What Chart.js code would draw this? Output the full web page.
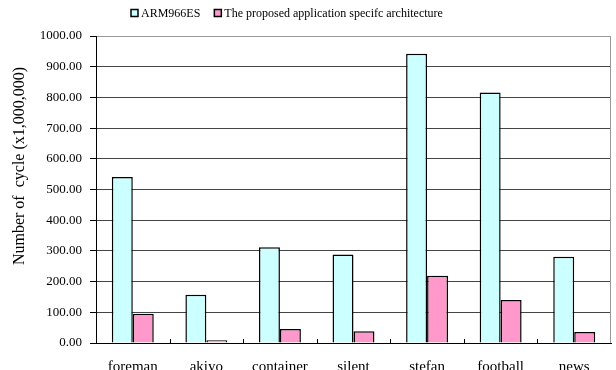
<!DOCTYPE html>
<html>
<head>
<meta charset="utf-8">
<script src="https://cdn.jsdelivr.net/npm/chart.js@4/dist/chart.umd.min.js"></script>
<style>
  html, body { margin: 0; padding: 0; background: #fff; }
  #wrap { width: 616px; height: 370px; }
</style>
</head>
<body>
<div id="wrap"><canvas id="c" width="616" height="370"></canvas></div>
<script>
// Daten.
var categories = ['foreman', 'akiyo', 'container', 'silent', 'stefan', 'football', 'news'];
var armValues = [541, 157, 312, 288, 942, 816, 281];
var asipValues = [95, 9, 46, 38, 219, 140, 36];
var seriesNames = ['ARM966ES', 'The proposed application specifc architecture'];
var yTicks = [0, 100, 200, 300, 400, 500, 600, 700, 800, 900, 1000];
var yTitle = 'Number of  cycle (x1,000,000)';

(function () {
    var serif = '"Liberation Serif", "Times New Roman", serif';

    // Legende, Achsentitel, Rahmen und kleine Tick-Striche selbst zeichnen (Excel-Look).
    var extras = {
        id: 'extras',
        afterDraw: function (chart) {
            var ctx = chart.ctx;
            var area = chart.chartArea;
            ctx.save();

            // Rechter Rahmen der Zeichenfläche, grau.
            ctx.strokeStyle = '#999';
            ctx.lineWidth = 1;
            ctx.beginPath();
            ctx.moveTo(Math.round(area.right) - 0.5, area.top);
            ctx.lineTo(Math.round(area.right) - 0.5, area.bottom);
            ctx.stroke();

            // Tick-Striche an den Kategoriegrenzen, nach innen.
            var step = (area.right - area.left) / categories.length;
            ctx.strokeStyle = '#000';
            for (var i = 1; i < categories.length; i++) {
                var px = Math.round(area.left + step * i) + 0.5;
                ctx.beginPath();
                ctx.moveTo(px, area.bottom);
                ctx.lineTo(px, area.bottom - 4);
                ctx.stroke();
            }

            // Legende oben.
            ctx.font = '12px ' + serif;
            ctx.textBaseline = 'middle';
            ctx.textAlign = 'left';
            var x = 131;
            var y = 13;
            chart.data.datasets.forEach(function (ds) {
                ctx.fillStyle = ds.backgroundColor;
                ctx.fillRect(x, y - 3.5, 7, 7);
                ctx.strokeStyle = '#000';
                ctx.lineWidth = 1.5;
                ctx.strokeRect(x, y - 3.5, 7, 7);
                ctx.fillStyle = '#000';
                ctx.fillText(ds.label, x + 10, y + 1);
                x += 10 + ctx.measureText(ds.label).width + 14;
            });

            // Y-Achsentitel.
            ctx.translate(20, 166);
            ctx.rotate(-Math.PI / 2);
            ctx.font = '16px ' + serif;
            ctx.textAlign = 'center';
            ctx.fillText(yTitle, 0, 0);

            ctx.restore();
        }
    };

    var ctx = document.getElementById('c').getContext('2d');
    new Chart(ctx, {
        type: 'bar',
        data: {
            labels: categories,
            datasets: [
                {
                    label: seriesNames[0],
                    data: armValues,
                    backgroundColor: '#CCFFFF',
                    borderColor: '#000',
                    borderWidth: 1.5,
                },
                {
                    label: seriesNames[1],
                    data: asipValues,
                    backgroundColor: '#FF99CC',
                    borderColor: '#000',
                    borderWidth: 1.5,
                },
            ],
        },
        options: {
            responsive: false,
            animation: false,
            maintainAspectRatio: false,
            layout: { padding: { left: 4, right: 5, top: 36, bottom: 0 } },
            datasets: {
                bar: { categoryPercentage: 0.57, barPercentage: 1.0 }
            },
            plugins: {
                tooltip: { enabled: false },
                legend: { display: false },
            },
            scales: {
                x: {
                    afterFit: function (scale) { scale.height = 27; },
                    grid: { display: false, drawTicks: false },
                    border: { display: true, color: '#000', width: 1 },
                    ticks: {
                        color: '#000',
                        font: { family: serif, size: 15 },
                        padding: 15,
                        maxRotation: 0,
                    },
                },
                y: {
                    min: 0,
                    max: 1000,
                    afterFit: function (scale) { scale.width = 92; },
                    afterBuildTicks: function (scale) {
                        scale.ticks = yTicks.map(function (v) { return { value: v }; });
                    },
                    grid: {
                        color: function (c) { return c.tick && c.tick.value === 1000 ? '#999' : '#444'; },
                        lineWidth: 1,
                        tickLength: 6,
                        tickColor: '#000',
                    },
                    border: { display: true, color: '#000', width: 1 },
                    ticks: {
                        color: '#000',
                        font: { family: serif, size: 13 },
                        padding: 8,
                        callback: function (v) { return Number(v).toFixed(2); },
                    },
                },
            },
        },
        plugins: [extras],
    });
})();
</script>
</body>
</html>
